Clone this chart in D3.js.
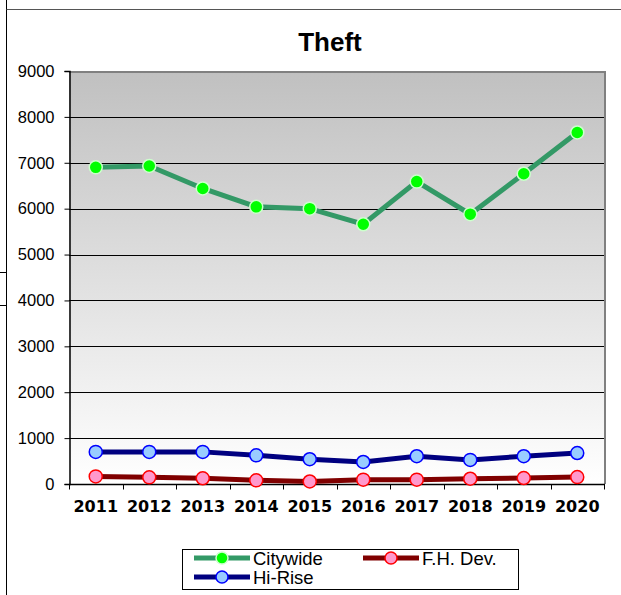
<!DOCTYPE html>
<html>
<head>
<meta charset="utf-8">
<script src="https://cdn.jsdelivr.net/npm/d3@7"></script>
<style>
  body { margin: 0; background: #fff; }
  svg { display: block; }
</style>
</head>
<body>
<div id="chart"></div>
<script>
// Data
var years = ["2011", "2012", "2013", "2014", "2015", "2016", "2017", "2018", "2019", "2020"];
var citywide = [6900, 6930, 6440, 6040, 6000, 5660, 6590, 5880, 6760, 7660];
var fhDev = [165, 145, 125, 80, 55, 95, 95, 115, 130, 150];
var hiRise = [700, 700, 700, 625, 540, 480, 605, 525, 605, 675];
var yTicks = [0, 1000, 2000, 3000, 4000, 5000, 6000, 7000, 8000, 9000];

var series = [
    { name: "Citywide", values: citywide, line: "#339966", fill: "#00ff00", stroke: "#ccffcc" },
    { name: "F.H. Dev.", values: fhDev, line: "#800000", fill: "#ff99cc", stroke: "#ff0000" },
    { name: "Hi-Rise", values: hiRise, line: "#000080", fill: "#99ccff", stroke: "#0000ff" }
];

var width = 621, height = 595;
var plot = { left: 69, top: 71, right: 604, bottom: 484 };

var svg = d3.select("#chart").append("svg")
    .attr("width", width)
    .attr("height", height);

// Outer frame pieces
svg.append("line").attr("x1", 6.5).attr("x2", 6.5).attr("y1", 0).attr("y2", height)
    .attr("stroke", "#000").attr("stroke-width", 1);
svg.append("line").attr("x1", 6.5).attr("x2", width).attr("y1", 9.5).attr("y2", 9.5)
    .attr("stroke", "#555").attr("stroke-width", 1.2);
[272.5, 305.5].forEach(function(y) {
    svg.append("line").attr("x1", 0).attr("x2", 6.5).attr("y1", y).attr("y2", y)
        .attr("stroke", "#000").attr("stroke-width", 1);
});

// Background gradient of the plot area
var grad = svg.append("defs").append("linearGradient")
    .attr("id", "bg").attr("x1", 0).attr("y1", 0).attr("x2", 0).attr("y2", 1);
grad.append("stop").attr("offset", "0%").attr("stop-color", "#c0c0c0");
grad.append("stop").attr("offset", "100%").attr("stop-color", "#ffffff");

var x = d3.scaleBand()
    .domain(years)
    .range([plot.left, plot.right]);

var y = d3.scaleLinear()
    .domain([0, 9000])
    .range([plot.bottom, plot.top]);

svg.append("rect")
    .attr("x", plot.left).attr("y", plot.top)
    .attr("width", plot.right - plot.left).attr("height", plot.bottom - plot.top)
    .attr("fill", "url(#bg)");

// Gridlines
svg.append("g")
    .selectAll("line")
    .data(yTicks.filter(function(d) { return d > 0 && d < 9000; }))
    .enter().append("line")
    .attr("x1", plot.left).attr("x2", plot.right)
    .attr("y1", function(d) { return Math.round(y(d)) + 0.5; })
    .attr("y2", function(d) { return Math.round(y(d)) + 0.5; })
    .attr("stroke", "#000").attr("stroke-width", 1);

// Gray border on top and right
svg.append("path")
    .attr("d", "M" + plot.left + "," + (plot.top + 1) + "H" + (plot.right + 1) + "V" + plot.bottom)
    .attr("fill", "none").attr("stroke", "#808080").attr("stroke-width", 2);

// Y axis
var yAxis = d3.axisLeft(y).tickValues(yTicks).tickSize(5).tickPadding(10).tickFormat(d3.format("d"));
var gy = svg.append("g")
    .attr("transform", "translate(" + (plot.left + 0.5) + ",0)")
    .call(yAxis);
gy.select(".domain").attr("stroke", "#000").attr("stroke-width", 1.5);
gy.selectAll(".tick line").attr("stroke", "#000");
gy.selectAll("text")
    .attr("font-family", "Liberation Sans, Arial, sans-serif")
    .attr("font-size", "16.5px")
    .attr("fill", "#000");

// X axis: ticks at category boundaries
var gx = svg.append("g")
    .attr("transform", "translate(0," + (plot.bottom + 0.5) + ")");
gx.append("line")
    .attr("x1", plot.left).attr("x2", plot.right + 1)
    .attr("stroke", "#000").attr("stroke-width", 1.5);
gx.selectAll("line.tk")
    .data(years.concat(["end"]))
    .enter().append("line")
    .attr("class", "tk")
    .attr("x1", function(d, i) { return Math.round(plot.left + i * x.bandwidth()) + 0.5; })
    .attr("x2", function(d, i) { return Math.round(plot.left + i * x.bandwidth()) + 0.5; })
    .attr("y1", 0).attr("y2", 5)
    .attr("stroke", "#000");
gx.selectAll("text")
    .data(years)
    .enter().append("text")
    .attr("x", function(d) { return x(d) + x.bandwidth() / 2; })
    .attr("y", 27)
    .attr("text-anchor", "middle")
    .attr("font-family", "DejaVu Sans, Verdana, sans-serif")
    .attr("font-weight", "bold")
    .attr("font-size", "16px")
    .attr("fill", "#000")
    .text(function(d) { return d; });

// Title
svg.append("text")
    .attr("x", 330).attr("y", 51)
    .attr("text-anchor", "middle")
    .attr("font-family", "Liberation Sans, Arial, sans-serif")
    .attr("font-weight", "bold")
    .attr("font-size", "26px")
    .text("Theft");

// Lines and markers
var line = d3.line()
    .x(function(d, i) { return x(years[i]) + x.bandwidth() / 2; })
    .y(function(d) { return y(d); });

series.forEach(function(s) {
    svg.append("path")
        .datum(s.values)
        .attr("fill", "none")
        .attr("stroke", s.line)
        .attr("stroke-width", 5)
        .attr("d", line);
});

series.forEach(function(s) {
    svg.append("g")
        .selectAll("circle")
        .data(s.values)
        .enter().append("circle")
        .attr("cx", function(d, i) { return x(years[i]) + x.bandwidth() / 2; })
        .attr("cy", function(d) { return y(d); })
        .attr("r", 6.5)
        .attr("fill", s.fill)
        .attr("stroke", s.stroke)
        .attr("stroke-width", 1.5);
});

// Legend
var legend = svg.append("g");
legend.append("rect")
    .attr("x", 182.5).attr("y", 549.5)
    .attr("width", 336).attr("height", 40)
    .attr("fill", "#fff").attr("stroke", "#000").attr("stroke-width", 1);

var legendPos = [
    { x: 194, y: 558 },
    { x: 363, y: 558 },
    { x: 194, y: 577 }
];

series.forEach(function(s, i) {
    var p = legendPos[i];
    var g = legend.append("g").attr("transform", "translate(" + p.x + "," + p.y + ")");
    g.append("line").attr("x1", 0).attr("x2", 56).attr("y1", 0).attr("y2", 0)
        .attr("stroke", s.line).attr("stroke-width", 5);
    g.append("circle").attr("cx", 28).attr("cy", 0).attr("r", 6)
        .attr("fill", s.fill).attr("stroke", s.stroke).attr("stroke-width", 1.5);
    g.append("text")
        .attr("x", 59).attr("y", 6.5)
        .attr("font-family", "Liberation Sans, Arial, sans-serif")
        .attr("font-size", "18.5px")
        .attr("fill", "#000")
        .text(s.name);
});
</script>
</body>
</html>
